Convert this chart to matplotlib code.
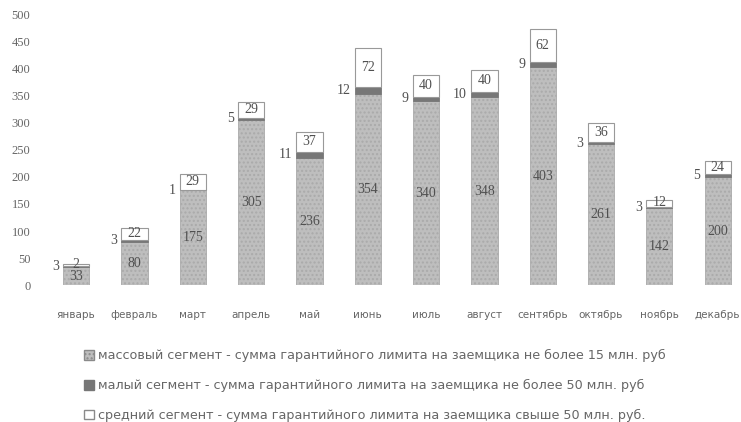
import matplotlib.pyplot as plt
from matplotlib.patches import Patch

months = ['январь', 'февраль', 'март', 'апрель', 'май', 'июнь',
          'июль', 'август', 'сентябрь', 'октябрь', 'ноябрь', 'декабрь']
mass = [33, 80, 175, 305, 236, 354, 340, 348, 403, 261, 142, 200]
small = [3, 3, 1, 5, 11, 12, 9, 10, 9, 3, 3, 5]
medium = [2, 22, 29, 29, 37, 72, 40, 40, 62, 36, 12, 24]
legend_labels = [
    'массовый сегмент - сумма гарантийного лимита на заемщика не более 15 млн. руб',
    'малый сегмент - сумма гарантийного лимита на заемщика не более 50 млн. руб',
    'средний сегмент - сумма гарантийного лимита на заемщика свыше 50 млн. руб.',
]

c_mass = '#bebebe'
c_small = '#777777'
c_med = '#ffffff'
txt = '#666666'

plt.rcParams['hatch.color'] = '#a8a8a8'
fig = plt.figure(figsize=(7.41, 4.22), dpi=100)
ax = fig.add_axes([0.0634, 0.3246, 0.9366, 0.64])

x = list(range(len(months)))
w = 0.45
bottom2 = [m + s for m, s in zip(mass, small)]
ax.bar(x, mass, w, color=c_mass, edgecolor='#aaaaaa', linewidth=0.6, hatch='....')
ax.bar(x, small, w, bottom=mass, color=c_small, edgecolor=c_small, linewidth=0.6)
ax.bar(x, medium, w, bottom=bottom2, color=c_med, edgecolor='#999999', linewidth=0.8)

num_font = dict(family='Liberation Serif', fontsize=10, color='#505050')
for i in x:
    ax.text(i, mass[i] / 2, str(mass[i]), ha='center', va='center', **num_font)
    ax.text(i - 0.3, mass[i] + small[i] / 2, str(small[i]), ha='right', va='center', **num_font)
    ax.text(i, bottom2[i] + medium[i] / 2 + 1, str(medium[i]), ha='center', va='center', **num_font)

ax.set_xlim(-0.5, 11.4)
ax.set_ylim(0, 500)
ax.set_yticks(range(0, 501, 50))
ax.set_xticks(x)
ax.set_xticklabels(months, fontsize=7.5, color=txt)
for lab in ax.get_yticklabels():
    lab.set_fontfamily('Liberation Serif')
    lab.set_fontsize(9)
    lab.set_color(txt)
ax.tick_params(axis='both', length=0)
ax.tick_params(axis='y', pad=12)
ax.tick_params(axis='x', pad=18)
for s in ax.spines.values():
    s.set_visible(False)

handles = [
    Patch(facecolor=c_mass, edgecolor='#8a8a8a', hatch='....'),
    Patch(facecolor=c_small, edgecolor=c_small),
    Patch(facecolor='white', edgecolor='#8a8a8a'),
]
leg = fig.legend(handles, legend_labels, loc='upper left',
                 bbox_to_anchor=(0.105, 1 - 343 / 422), frameon=False,
                 fontsize=9.2, handlelength=0.8, handleheight=0.8,
                 handletextpad=0.3, labelspacing=1.3, borderpad=0)
for t in leg.get_texts():
    t.set_color(txt)

fig.savefig('out.png', dpi=100)
